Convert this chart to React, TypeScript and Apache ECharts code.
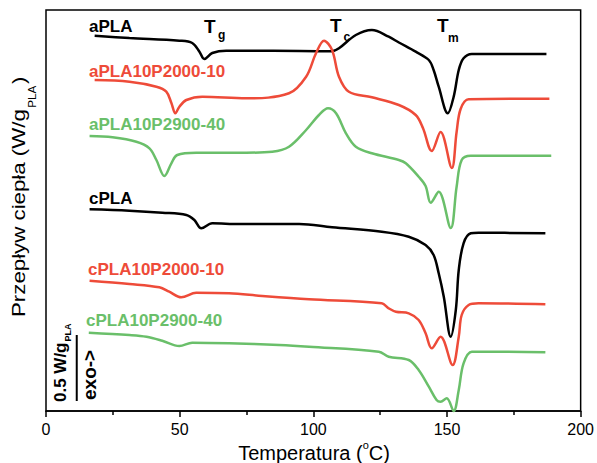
import React, { useEffect, useRef } from "react";
import * as echarts from "echarts";

// Temperature (°C) vs heat flow (arbitrary offset units; scale bar = 0.5 W/g)
const X_TICKS = [0, 50, 100, 150, 200];

const aPLA = [[18.2,375.3],[31.2,373],[49.9,370.3],[54.7,368],[57.4,359.3],[59.2,352],[62.2,358],[67.4,360.3],[74.9,360.3],[95,360],[107.0,359.8],[109.6,362.7],[115.9,376],[121.9,381],[128.2,374.3],[132.0,368.5],[138.3,359.3],[143.2,351],[145.0,341],[146.9,324.3],[150.3,297.7],[152.5,314.3],[154.4,341],[156.2,352.7],[159.3,357],[187.2,357]];
const aPLA10P2000_10 = [[18.2,331],[31.2,329.3],[41.3,324.3],[45.0,319.3],[46.9,308],[48.4,297.7],[49.9,304.3],[52.5,311],[58.5,314.3],[74.9,312.7],[90.9,317.7],[97.3,334.3],[101.0,357.7],[104.0,370.3],[107.0,361],[109.6,334.3],[113.3,319.3],[121.9,313.7],[132.0,306],[138.3,296],[141.0,283],[144.3,260],[147.6,279],[151.8,243],[153.6,279],[155.1,302],[158.1,311.7],[188.3,312.3]];
const aPLA10P2900_40 = [[16.3,275],[24.9,273.7],[33.8,269.3],[38.7,262.7],[41.3,251],[44.3,235],[46.9,247.7],[49.1,256],[56.2,258.3],[74.9,258.3],[84.6,259.3],[90.9,264.3],[97.3,281],[102.1,296],[105.5,302.7],[108.5,297.7],[112.2,277.7],[115.9,264.3],[121.9,257.7],[132.0,251],[134.6,247.7],[139.4,234.3],[142.0,225],[143.9,208.3],[146.9,219.3],[151.4,183],[153.6,224.3],[155.5,251],[158.9,255.3],[189.0,255.3]];
const cPLA = [[16.3,201.7],[31.2,200.3],[43.5,198.3],[52.5,196],[55.5,191],[58.1,182.7],[62.2,187.7],[72.3,187],[94.7,187],[107.0,183.7],[125.6,179.3],[135.7,174.3],[142.0,166],[145.0,156],[146.9,137.7],[148.8,114.3],[151.4,74.3],[153.3,101],[154.4,141],[156.2,167.7],[158.9,177.7],[161.8,178.3],[186.8,177.7]];
const cPLA10P2000_10 = [[16.3,130.3],[31.2,127],[42.4,123.7],[46.1,119.3],[50.6,113.7],[56.2,118.3],[68.5,117.7],[80.9,115],[98.4,111.7],[125.6,107.7],[128.2,102.7],[130.9,99.3],[135.7,97.7],[139.4,91],[142.0,77.7],[144.3,62.7],[147.6,74.3],[152.1,46],[154.4,74.3],[155.5,96],[158.1,106],[161.8,107.7],[186.8,106.7]];
const cPLA10P2900_40 = [[16.0,78.3],[31.2,76],[37.6,74.3],[43.5,70.3],[49.9,65],[54.7,68.3],[68.5,67.7],[87.2,66],[98.4,64.3],[124.5,59.3],[128.2,54.3],[135.7,51],[139.4,41],[143.2,24.3],[146.1,11],[147.6,9.3],[149.9,12.7],[152.5,0],[154.4,21],[156.2,47.7],[159.3,59.3],[164.4,59.3],[186.8,58.7]];
const SCALE_BAR = [[11.5, 10], [11.5, 76]];

const SERIES_NAMES = ["aPLA", "aPLA10P2000-10", "aPLA10P2900-40", "cPLA", "cPLA10P2000-10", "cPLA10P2900-40"];
const SERIES_DATA = [aPLA, aPLA10P2000_10, aPLA10P2900_40, cPLA, cPLA10P2000_10, cPLA10P2900_40];

const BLACK = "#000000";
const RED = "#EE4B39";
const GREEN = "#6ABF6A";
const SERIES_COLORS = [BLACK, RED, GREEN, BLACK, RED, GREEN];
const FONT = '"Liberation Sans", Arial, sans-serif';

function measure(text: string, size: number, weight: string): number {
  const c = document.createElement("canvas").getContext("2d")!;
  c.font = `${weight} ${size}px "Liberation Sans"`;
  return c.measureText(text).width;
}

function txt(text: string, x: number, y: number, size: number, color: string, weight = "bold"): any {
  return {
    type: "text",
    x,
    y,
    silent: true,
    style: {
      text,
      fill: color,
      fontSize: size,
      fontWeight: weight,
      fontFamily: FONT,
      align: "left",
      verticalAlign: "middle",
    },
  };
}

export default function App() {
  const ref = useRef<HTMLDivElement>(null);
  useEffect(() => {
    const chart = echarts.init(ref.current!, null, { renderer: "svg" });

    // Y title
    const yMain = "Przepływ ciepła (W/g";
    const yMainW = measure(yMain, 19, "normal");
    const ySubW = measure("PLA", 10, "normal");
    const ys = 208 / yMainW;

    // X title
    const xA = "Temperatura (";
    const xAW = measure(xA, 20, "normal");
    const xOW = measure("o", 11, "normal");
    const xCW = measure("C)", 20, "normal");
    const xTot = xAW + xOW + xCW;
    const xLeft = 314 - xTot / 2;

    // scale bar labels
    const sbMain = "0.5 W/g";
    const sbW = measure(sbMain, 17, "bold");

    const curveLabels = [
      txt("aPLA", 89, 26, 17, BLACK),
      txt("aPLA10P2000-10", 89, 71, 17, RED),
      txt("aPLA10P2900-40", 89, 124, 17, GREEN),
      txt("cPLA", 89, 198.5, 17, BLACK),
      txt("cPLA10P2000-10", 88, 269, 17, RED),
      txt("cPLA10P2900-40", 86, 320.5, 17, GREEN),
    ];

    const option: any = {
      animation: false,
      grid: {
        left: 46,
        right: 15,
        top: 10,
        bottom: 52,
        show: true,
        borderColor: "#000",
        borderWidth: 1.5,
        backgroundColor: "transparent",
      },
      xAxis: {
        type: "value",
        min: X_TICKS[0],
        max: X_TICKS[X_TICKS.length - 1],
        interval: 50,
        axisLine: { show: true, lineStyle: { color: "#000", width: 1.5 } },
        axisTick: { show: true, length: 6, lineStyle: { color: "#000", width: 1.5 } },
        minorTick: { show: true, splitNumber: 2, length: 4, lineStyle: { color: "#000", width: 1.5 } },
        axisLabel: { fontSize: 16, color: "#000", margin: 10, fontFamily: FONT },
        splitLine: { show: false },
        minorSplitLine: { show: false },
      },
      yAxis: {
        type: "value",
        min: 0,
        max: 401,
        show: false,
        splitLine: { show: false },
      },
      series: [
        ...SERIES_DATA.map((d, i) => ({
          name: SERIES_NAMES[i],
          type: "line",
          data: d,
          symbol: "none",
          smooth: 0.35,
          clip: false,
          lineStyle: { color: SERIES_COLORS[i], width: 2.5 },
          itemStyle: { color: SERIES_COLORS[i] },
        })),
        {
          name: "scale",
          type: "line",
          data: SCALE_BAR,
          symbol: "none",
          clip: false,
          lineStyle: { color: "#000", width: 2 },
        },
      ],
      graphic: [
        ...curveLabels,
        txt("T", 204, 26, 19, BLACK),
        txt("g", 218, 35, 12, BLACK),
        txt("T", 330, 25, 19, BLACK),
        txt("c", 343.5, 37, 12, BLACK),
        txt("T", 437, 25.5, 19, BLACK),
        txt("m", 448, 37.5, 12, BLACK),
        {
          type: "group",
          x: 18.5,
          y: 317,
          rotation: Math.PI / 2,
          scaleX: ys,
          children: [
            txt(yMain, 0, 0, 19, "#000", "normal"),
            txt("PLA", yMainW + 1, 14, 10, "#000", "normal"),
            txt(")", yMainW + 1 + ySubW + 1.5, 0, 19, "#000", "normal"),
          ],
        },
        txt(xA, xLeft, 453, 20, "#000", "normal"),
        txt("o", xLeft + xAW, 445, 11, "#000", "normal"),
        txt("C)", xLeft + xAW + xOW, 453, 20, "#000", "normal"),
        {
          type: "group",
          x: 60,
          y: 402,
          rotation: Math.PI / 2,
          children: [
            txt(sbMain, 0, 0, 17, "#000", "bold"),
            txt("PLA", sbW + 1, 8, 9, "#000", "bold"),
          ],
        },
        {
          type: "group",
          x: 89.5,
          y: 400,
          rotation: Math.PI / 2,
          children: [txt("exo->", 0, 0, 19, "#000", "bold")],
        },
      ],
    };
    chart.setOption(option);
    return () => chart.dispose();
  }, []);
  return <div ref={ref} style={{ position: "absolute", left: 0, top: 0, width: 597, height: 463 }} />;
}
